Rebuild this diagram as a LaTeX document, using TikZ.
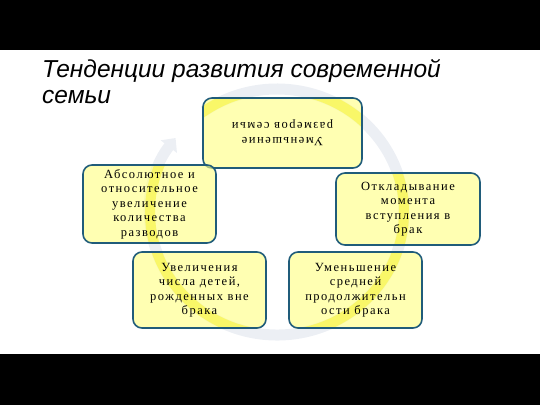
\documentclass[tikz,border=0pt]{standalone}
\usepackage{fontspec}
\setmainfont{Liberation Serif}
\newfontfamily\titlefont{Liberation Sans}
\newfontfamily\boxfont[LetterSpace=12]{Liberation Serif}
\usetikzlibrary{positioning, arrows.meta}
\definecolor{boxfill}{RGB}{255,255,127}
\definecolor{boxedge}{RGB}{32,92,122}
\definecolor{ringgray}{RGB}{236,239,244}
\definecolor{ringyellow}{RGB}{240,236,70}
\pgfdeclarelayer{background}
\pgfsetlayers{background,main}

\begin{document}
\begin{tikzpicture}[
	x=1pt, y=-1pt,
	% --- Style Definitions ---
	bar/.style={fill=black},
	ring/.style={draw=ringgray, line width=11pt},
	glow/.style={draw=ringyellow, line width=10pt},
	trend/.style={rectangle, draw=boxedge, line width=1.6pt, fill=boxfill,
		fill opacity=0.6, text opacity=1, draw opacity=1,
		rounded corners=9pt, align=center, inner sep=2pt,
		font=\boxfont\fontsize{12.5}{14.5}\selectfont},
	heading/.style={anchor=base west, inner sep=0pt,
		font=\titlefont\itshape\fontsize{24.5}{25}\selectfont},
	]
	
	% --- Frame ---
	\useasboundingbox (0,0) rectangle (540,405);
	\fill[bar] (0,0) rectangle (540,50);
	\fill[bar] (0,354) rectangle (540,405);
	
	% --- Title ---
	\node[heading] (title1) at (42,77) {Тенденции развития современной};
	\node[heading] (title2) at (42,103) {семьи};
	
	% --- Trends ---
	\node[trend, minimum width=159pt, minimum height=70pt, rotate=180]
		(size) at (282.5,133) {Уменьшение\\размеров семьи};
	\node[trend, minimum width=133pt, minimum height=78pt]
		(divorce) at (149.5,204) {Абсолютное и\\относительное\\увеличение\\количества\\разводов};
	\node[trend, minimum width=144pt, minimum height=72pt]
		(delay) at (408,209) {Откладывание\\момента\\вступления в\\брак};
	\node[trend, minimum width=133pt, minimum height=76pt]
		(births) at (199.5,290) {Увеличения\\числа детей,\\рожденных вне\\брака};
	\node[trend, minimum width=133pt, minimum height=76pt]
		(duration) at (355.5,290) {Уменьшение\\средней\\продолжительн\\ости брака};
	
	% --- Background ring, yellow only where it runs under a box ---
	\begin{pgfonlayer}{background}
		\draw[ring, -{Triangle[length=11pt, width=20pt]}]
			([shift={(235:127 and 123)}]277,212) arc[start angle=235, end angle=577, x radius=127, y radius=123];
		\begin{scope}
			\clip[rounded corners=9pt]
				(size.south west) rectangle (size.north east)
				(divorce.south west) rectangle (divorce.north east)
				(delay.south west) rectangle (delay.north east)
				(births.south west) rectangle (births.north east)
				(duration.south west) rectangle (duration.north east);
			\draw[glow] (277,212) ellipse [x radius=127, y radius=123];
		\end{scope}
	\end{pgfonlayer}
	
\end{tikzpicture}
\end{document}
